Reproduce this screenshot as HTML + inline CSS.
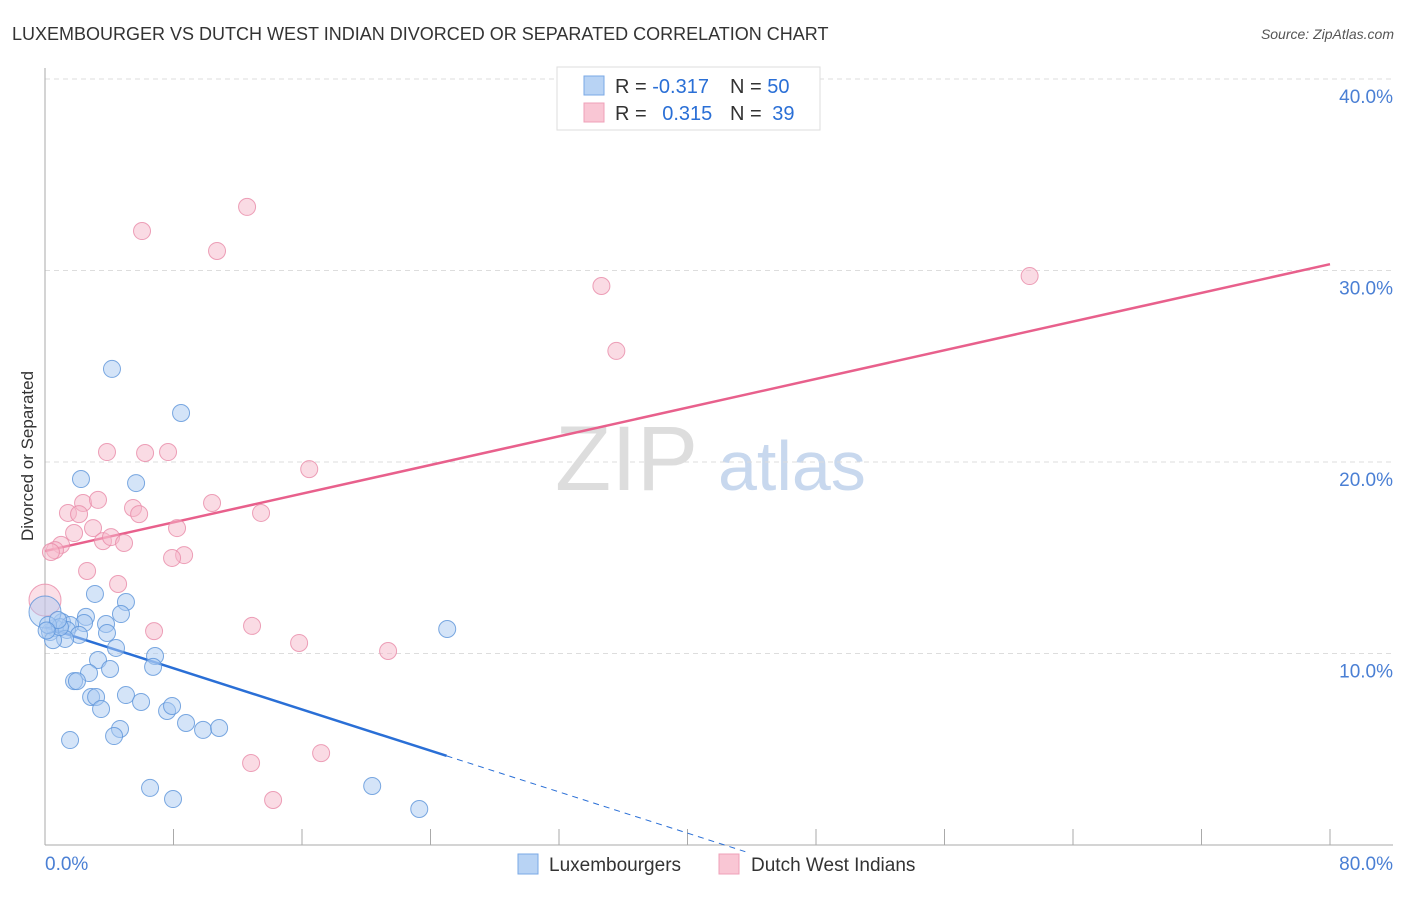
<!DOCTYPE html>
<html><head><meta charset="utf-8"><style>
body{margin:0;background:#fff;font-family:"Liberation Sans",sans-serif;}
svg text{font-family:"Liberation Sans",sans-serif;}
</style></head><body>
<svg id="chart" width="1406" height="892" viewBox="0 0 1406 892" xmlns="http://www.w3.org/2000/svg">
<text x="12" y="40" font-size="18" fill="#333">LUXEMBOURGER VS DUTCH WEST INDIAN DIVORCED OR SEPARATED CORRELATION CHART</text>
<text x="1394" y="39" font-size="14" fill="#555" font-style="italic" text-anchor="end">Source: ZipAtlas.com</text>
<text transform="translate(33,456) rotate(-90)" font-size="17" fill="#333" text-anchor="middle">Divorced or Separated</text>
<g>
<text x="555" y="490" font-size="92" fill="#ddd" font-family="Liberation Serif,serif">ZIP</text>
<text x="718" y="490" font-size="70" fill="#c8d8ee">atlas</text>
</g>
<g id="grid"></g><g id="axes"></g><g id="lines"></g><g id="pts"></g>
<g>
<rect x="557" y="67" width="263" height="63" fill="#fff" stroke="#ddd"/>
<rect x="584" y="76" width="20" height="19" fill="#b8d3f4" stroke="#7aa8e6"/>
<rect x="584" y="103" width="20" height="19" fill="#f9c6d4" stroke="#efa0b8"/>
<text x="615" y="93" font-size="20" fill="#333">R = <tspan fill="#2a6fd6">-0.317</tspan></text>
<text x="730" y="93" font-size="20" fill="#333">N = <tspan fill="#2a6fd6">50</tspan></text>
<text x="615" y="120" font-size="20" fill="#333">R = <tspan fill="#2a6fd6" dx="10">0.315</tspan></text>
<text x="730" y="120" font-size="20" fill="#333">N = <tspan fill="#2a6fd6" dx="5">39</tspan></text>
</g>
<g>
<rect x="518" y="854" width="20" height="20" fill="#b8d3f4" stroke="#7aa8e6"/>
<text x="549" y="871" font-size="19" fill="#333">Luxembourgers</text>
<rect x="719" y="854" width="20" height="20" fill="#f9c6d4" stroke="#efa0b8"/>
<text x="751" y="871" font-size="19" fill="#333">Dutch West Indians</text>
</g>
</svg>
<script>
const blueX=[4.17,8.47,2.24,5.67,3.11,5.04,4.73,2.55,3.80,2.43,1.06,1.56,0.62,1.37,0.31,2.12,3.86,1.25,0.50,4.42,6.85,6.73,3.30,4.05,2.74,1.81,1.99,2.87,3.18,5.04,5.98,3.49,7.60,7.91,8.78,9.84,10.84,4.67,4.30,1.56,6.54,7.97,20.37,23.30,25.04,0.0,0.93,0.19,0.81,0.10];
const blueY=[24.86,22.56,19.11,18.90,13.11,12.69,12.06,11.91,11.54,11.59,11.64,11.49,11.33,11.23,11.12,10.97,11.07,10.76,10.70,10.29,9.87,9.30,9.66,9.19,8.98,8.56,8.56,7.73,7.73,7.83,7.47,7.10,7.00,7.26,6.37,6.01,6.11,6.06,5.69,5.48,2.98,2.40,3.08,1.88,11.28,12.17,11.38,11.49,11.75,11.20];
const pinkX=[12.58,6.04,10.71,34.64,61.30,35.57,3.86,6.23,7.66,16.45,2.37,3.30,10.40,1.43,2.12,5.48,5.86,13.45,2.99,8.22,1.81,1.00,3.61,4.11,4.92,0.62,0.37,8.66,7.91,2.62,4.55,0.0,6.79,12.89,15.82,21.36,17.19,12.83,14.20];
const pinkY=[33.32,32.06,31.02,29.19,29.71,25.80,20.52,20.47,20.52,19.63,17.86,18.02,17.86,17.34,17.28,17.60,17.28,17.34,16.55,16.55,16.29,15.67,15.87,16.08,15.77,15.40,15.30,15.14,14.99,14.31,13.63,12.79,11.17,11.44,10.55,10.13,4.80,4.28,2.35];
const blueTrend=[11.38,-0.269,25,43.6];
const pinkTrend=[15.35,0.18725,80];
const yTicks=[10,20,30,40];
const yTickLabels=["10.0%","20.0%","30.0%","40.0%"];
const xTicks=[0,8,16,24,32,40,48,56,64,72,80];
const NS='http://www.w3.org/2000/svg';
const X=v=>45+v/80*1285, Y=v=>845-v*19.15;
function mk(t,a,p){const e=document.createElementNS(NS,t);for(const k in a)e.setAttribute(k,a[k]);document.getElementById(p).appendChild(e);return e;}
yTicks.forEach((t,i)=>{
 const g=mk('line',{x1:45,x2:1393,y1:Y(t),y2:Y(t),stroke:'#ddd','stroke-dasharray':'5,4'},'grid');
 
 
 const l=mk('text',{x:1393,y:Y(t)+24,'font-size':19,fill:'#4a7fd4','text-anchor':'end'},'grid');l.textContent=yTickLabels[i];
 
 
});
let a=mk('line',{x1:45,x2:45,y1:68,y2:845,stroke:'#aaa'},'axes');


a=mk('line',{x1:45,x2:1393,y1:845,y2:845,stroke:'#aaa'},'axes');


xTicks.forEach(t=>{const e=mk('line',{x1:X(t),x2:X(t),y1:829,y2:845,stroke:'#aaa'},'axes');
 
 });
let tl=mk('text',{x:45,y:870,'font-size':19,fill:'#4a7fd4'},'axes');tl.textContent='0.0%';


tl=mk('text',{x:1393,y:870,'font-size':19,fill:'#4a7fd4','text-anchor':'end'},'axes');tl.textContent='80.0%';


function pts(xs,ys,fill,stroke,name){xs.forEach((x,i)=>{const big=(x===0);const c=mk('circle',{cx:X(x),cy:Y(ys[i]),r:big?16:8.5,fill:fill,'fill-opacity':big?0.45:0.5,stroke:stroke,'stroke-opacity':0.8,'stroke-width':1},'pts');
 
 });}
pts(pinkX,pinkY,'#f6b8ca','#e88aa8','dutch-west-indian-point');
pts(blueX,blueY,'#a9c9f1','#5b93d9','luxembourger-point');
let ln=mk('line',{x1:X(0),y1:Y(blueTrend[0]),x2:X(blueTrend[2]),y2:Y(blueTrend[0]+blueTrend[1]*blueTrend[2]),stroke:'#2a6fd6','stroke-width':2.5},'lines');


ln=mk('line',{x1:X(blueTrend[2]),y1:Y(blueTrend[0]+blueTrend[1]*blueTrend[2]),x2:X(blueTrend[3]),y2:Y(blueTrend[0]+blueTrend[1]*blueTrend[3]),stroke:'#2a6fd6','stroke-width':1,'stroke-dasharray':'6,5'},'lines');


ln=mk('line',{x1:X(0),y1:Y(pinkTrend[0]),x2:X(pinkTrend[2]),y2:Y(pinkTrend[0]+pinkTrend[1]*pinkTrend[2]),stroke:'#e8608c','stroke-width':2.5},'lines');


</script>
</body></html>
